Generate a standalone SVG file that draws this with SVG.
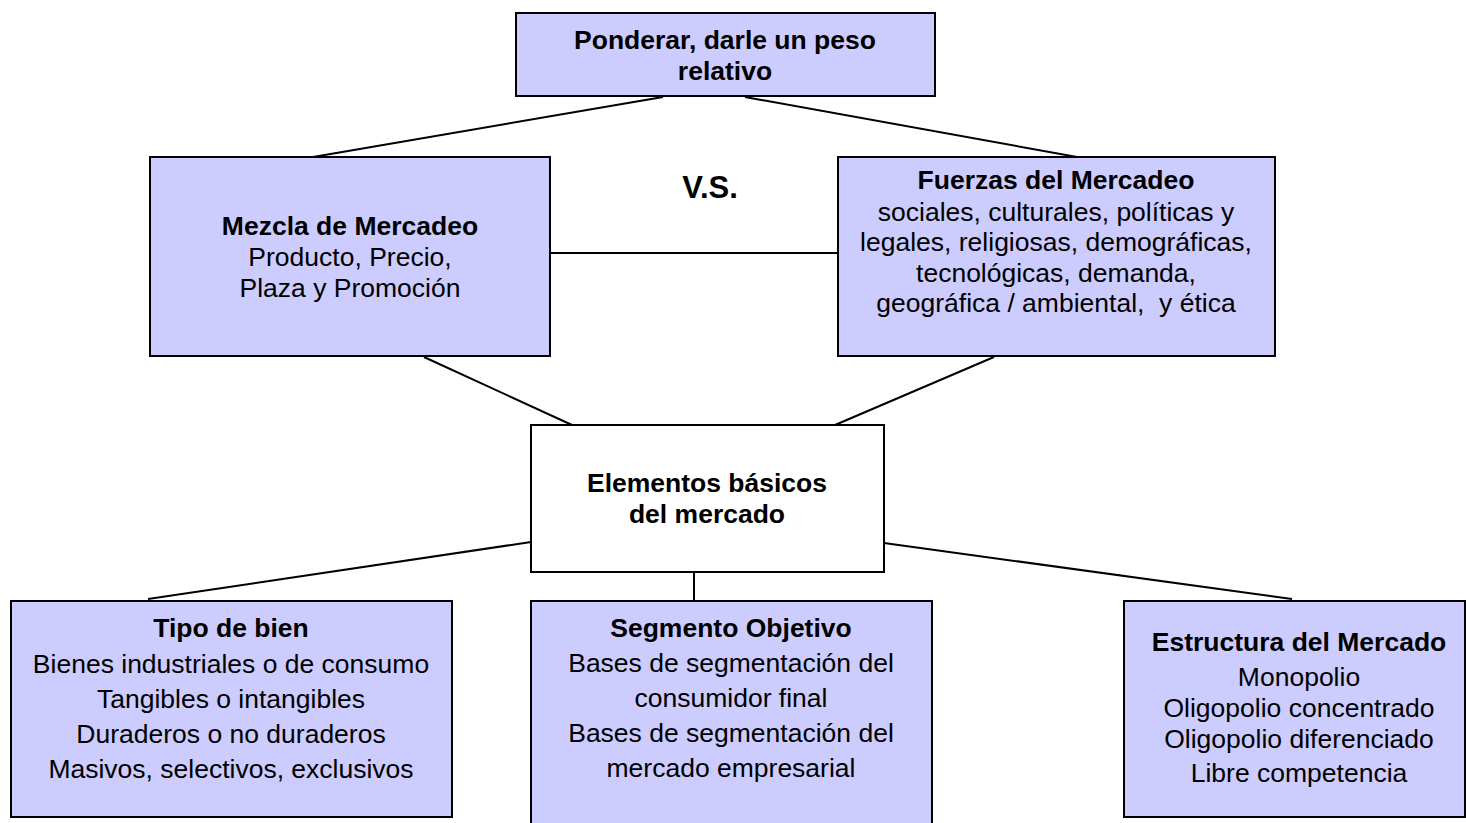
<svg xmlns="http://www.w3.org/2000/svg" width="1466" height="823" viewBox="0 0 1466 823">
<style>
.box{fill:#ccccff;stroke:#000;stroke-width:2}
.wbox{fill:#ffffff;stroke:#000;stroke-width:2}
.conn line{stroke:#000;stroke-width:2}
text{font-family:"Liberation Sans",Arial,sans-serif;font-size:26.5px;fill:#000;text-anchor:middle}
.b{font-weight:bold}
</style>
<rect width="1466" height="823" fill="#fff"/>
<g id="connectors" class="conn">
<line x1="663" y1="97" x2="313" y2="157"/>
<line x1="745" y1="97" x2="1077" y2="157"/>
<line x1="550" y1="253" x2="838" y2="253"/>
<line x1="424" y1="357" x2="572" y2="425"/>
<line x1="994" y1="357" x2="835" y2="425"/>
<line x1="531" y1="542" x2="148" y2="599"/>
<line x1="694" y1="572" x2="694" y2="601"/>
<line x1="884" y1="543" x2="1292" y2="599"/>
</g>
<g id="ponderar">
<rect class="box" x="516" y="13" width="419" height="83"/>
<text class="b" x="725" y="49">Ponderar, darle un peso</text>
<text class="b" x="725" y="80">relativo</text>
</g>
<g id="mezcla">
<rect class="box" x="150" y="157" width="400" height="199"/>
<text class="b" x="350" y="235">Mezcla de Mercadeo</text>
<text x="350" y="266">Producto, Precio,</text>
<text x="350" y="297">Plaza y Promoción</text>
</g>
<g id="vs">
<text class="b" x="710" y="198" style="font-size:31px">V.S.</text>
</g>
<g id="fuerzas">
<rect class="box" x="838" y="157" width="437" height="199"/>
<text class="b" x="1056" y="189">Fuerzas del Mercadeo</text>
<text x="1056" y="221">sociales, culturales, políticas y</text>
<text x="1056" y="251">legales, religiosas, demográficas,</text>
<text x="1056" y="282">tecnológicas, demanda,</text>
<text x="1056" y="312" xml:space="preserve">geográfica / ambiental,  y ética</text>
</g>
<g id="elementos">
<rect class="wbox" x="531" y="425" width="353" height="147"/>
<text class="b" x="707" y="492">Elementos básicos</text>
<text class="b" x="707" y="523">del mercado</text>
</g>
<g id="tipo">
<rect class="box" x="11" y="601" width="441" height="216"/>
<text class="b" x="231" y="637">Tipo de bien</text>
<text x="231" y="673">Bienes industriales o de consumo</text>
<text x="231" y="708">Tangibles o intangibles</text>
<text x="231" y="743">Duraderos o no duraderos</text>
<text x="231" y="778">Masivos, selectivos, exclusivos</text>
</g>
<g id="segmento">
<rect class="box" x="531" y="601" width="401" height="230"/>
<text class="b" x="731" y="637">Segmento Objetivo</text>
<text x="731" y="672">Bases de segmentación del</text>
<text x="731" y="707">consumidor final</text>
<text x="731" y="742">Bases de segmentación del</text>
<text x="731" y="777">mercado empresarial</text>
</g>
<g id="estructura">
<rect class="box" x="1124" y="601" width="341" height="216"/>
<text class="b" x="1299" y="651">Estructura del Mercado</text>
<text x="1299" y="686">Monopolio</text>
<text x="1299" y="717">Oligopolio concentrado</text>
<text x="1299" y="748">Oligopolio diferenciado</text>
<text x="1299" y="782">Libre competencia</text>
</g>
</svg>
